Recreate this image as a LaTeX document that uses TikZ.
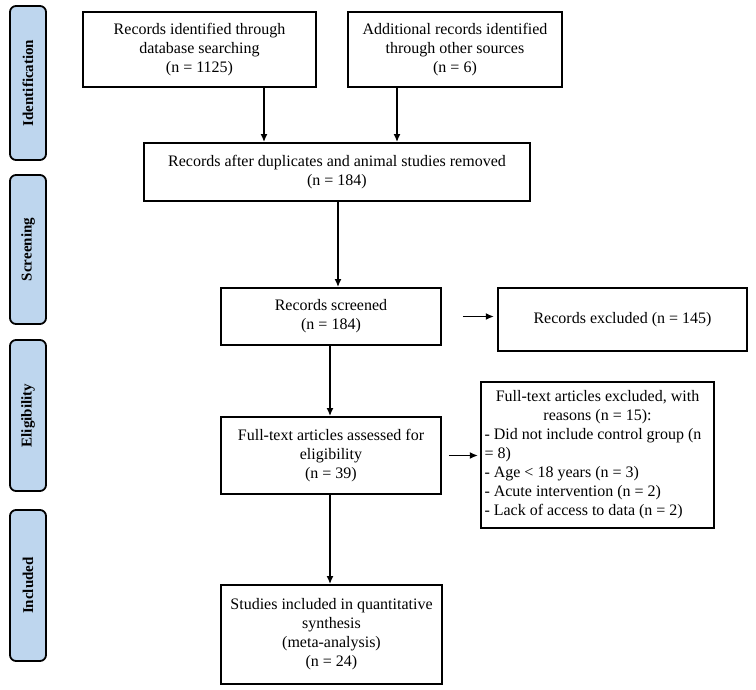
\documentclass[tikz,border=0pt]{standalone}
\usepackage{fontspec}
\setmainfont{Liberation Serif}
\usetikzlibrary{arrows.meta}
\tikzset{>={Latex[length=8pt,width=7pt]}}
\definecolor{phaseblue}{RGB}{190,214,238}

\begin{document}
\begin{tikzpicture}[x=1pt,y=-1pt,
    box/.style={draw,line width=1.8pt,align=center,inner sep=2pt,
      font=\fontsize{16}{19}\selectfont},
    phase/.style={draw,line width=1.8pt,fill=phaseblue,rounded corners=6pt,
      minimum width=36pt},
    arr/.style={->,line width=1.8pt}]

  \useasboundingbox (0,0) rectangle (756,690);

  % phases
  \foreach \name/\top/\bot/\txt in {ident/6/160/Identification,
      screen/175/324/Screening, elig/340/491/Eligibility, incl/510/661/Included}{
    \node[phase,minimum height={\bot-\top}] (\name) at (28,{(\top+\bot)/2}) {};
    \node[rotate=90,font=\fontsize{15}{17}\selectfont\bfseries] at (\name) {\txt};
  }

  % boxes
  \node[box,minimum width=233,minimum height=75] (db) at (199.5,49.5)
    {Records identified through\\database searching\\(n = 1125)};
  \node[box,minimum width=214,minimum height=75] (other) at (455,49.5)
    {Additional records identified\\through other sources\\(n = 6)};
  \node[box,minimum width=386,minimum height=58] (dup) at (337,172)
    {Records after duplicates and animal studies removed\\(n = 184)};
  \node[box,minimum width=220,minimum height=57] (screened) at (331,316.5)
    {Records screened\\(n = 184)};
  \node[box,minimum width=249,minimum height=63] (excl) at (622.5,319.5)
    {Records excluded (n = 145)};
  \node[box,minimum width=220,minimum height=77] (full) at (331,455.5)
    {Full-text articles assessed for\\eligibility\\(n = 39)};
  \node[box,minimum width=233,minimum height=146] (fullexcl) at (597.5,455)
    {\parbox{226pt}{\centering Full-text articles excluded, with\\reasons (n = 15):\par
     \raggedright - Did not include control group (n\\= 8)\\- Age < 18 years (n = 3)\\
     - Acute intervention (n = 2)\\- Lack of access to data (n = 2)}};
  \node[box,minimum width=221,minimum height=99] (incl) at (331.5,634.5)
    {Studies included in quantitative\\synthesis\\(meta-analysis)\\(n = 24)};

  % connectors
  \draw[arr] (db.south -| 264,0) -- (dup.north -| 264,0);
  \draw[arr] (other.south -| 397,0) -- (dup.north -| 397,0);
  \draw[arr] (dup.south -| 338,0) -- (screened.north -| 338,0);
  \draw[arr] (screened.south -| 330,0) -- (full.north -| 330,0);
  \draw[arr] (full.south -| 330,0) -- (incl.north -| 330,0);
  \draw[arr] ([xshift=21]screened.east) -- ([xshift=52]screened.east);
  \draw[arr] ([xshift=7]full.east) -- ([xshift=36]full.east);

\end{tikzpicture}
\end{document}
